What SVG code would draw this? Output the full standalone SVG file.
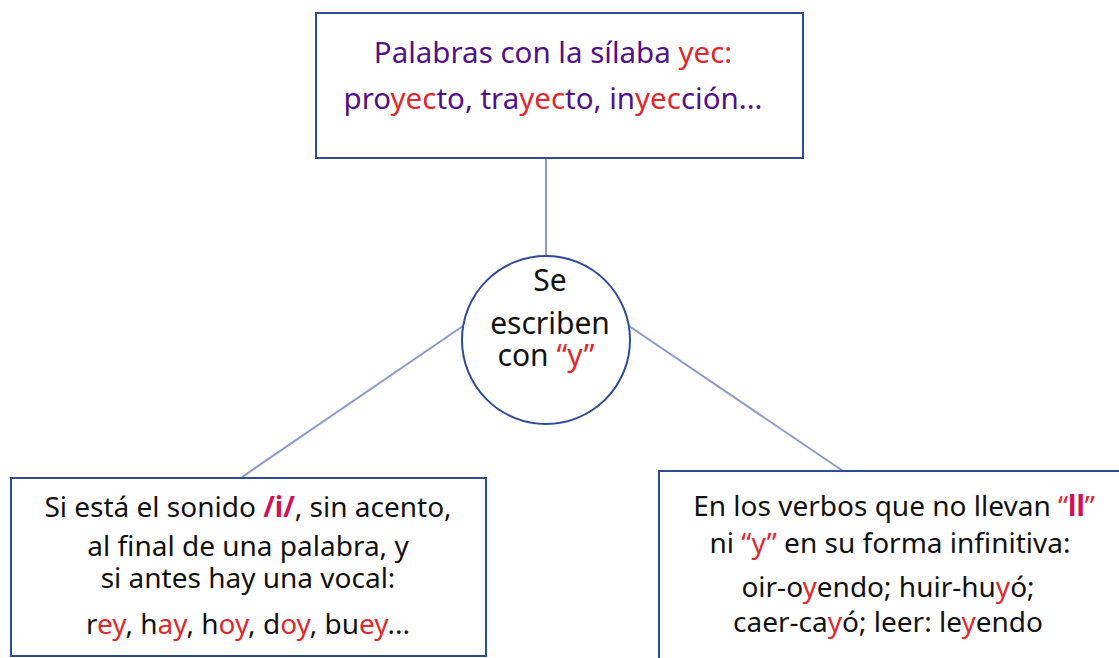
<svg xmlns="http://www.w3.org/2000/svg" width="1119" height="658" viewBox="0 0 1119 658">
<style>
.box{fill:#fff;stroke:#2e4a9b;stroke-width:2}
.conn{stroke:#8c9ac8;stroke-width:2;fill:none}
text{font-family:"Noto Sans","Liberation Sans",sans-serif;text-anchor:middle}
.t{font-size:28px;fill:#111}
.p{font-size:29.5px;fill:#52108a}
.c{font-size:30px;fill:#111}
.r{fill:#e0282e}
.m{fill:#d0105a;font-weight:bold}
</style>
<rect width="1119" height="658" fill="#fff"/>
<g id="connectors">
<line class="conn" x1="546" y1="158" x2="546" y2="255"/>
<line class="conn" x1="463" y1="326" x2="242" y2="477"/>
<line class="conn" x1="629" y1="326" x2="843" y2="471"/>
</g>
<g id="top">
<rect class="box" x="316" y="13" width="487" height="145"/>
<text class="p" x="553" y="63">Palabras con la sílaba <tspan class="r">yec</tspan><tspan class="r">:</tspan></text>
<text class="p" x="553" y="109">pro<tspan class="r">yec</tspan>to, tra<tspan class="r">yec</tspan>to, in<tspan class="r">yec</tspan>ción...</text>
</g>
<g id="center">
<circle cx="546" cy="340" r="84" fill="#fff" stroke="#2e4a9b" stroke-width="2"/>
<text class="c" x="550" y="291">Se</text>
<text class="c" x="550" y="334">escriben</text>
<text class="c" x="546" y="366">con <tspan class="r">“y”</tspan></text>
</g>
<g id="left">
<rect class="box" x="11" y="478" width="475" height="178"/>
<text class="t" x="248" y="517">Si está el sonido <tspan class="m">/i/</tspan>, sin acento,</text>
<text class="t" x="248" y="556">al final de una palabra, y</text>
<text class="t" x="248" y="588">si antes hay una vocal:</text>
<text class="t" x="248" y="634">r<tspan class="r">ey</tspan>, h<tspan class="r">ay</tspan>, h<tspan class="r">oy</tspan>, d<tspan class="r">oy</tspan>, bu<tspan class="r">ey</tspan>...</text>
</g>
<g id="right">
<rect class="box" x="659" y="471" width="470" height="195"/>
<text class="t" x="894" y="516">En los verbos que no llevan <tspan class="r">“</tspan><tspan class="m">ll</tspan><tspan class="r">”</tspan></text>
<text class="t" x="890" y="553">ni <tspan class="r">“y”</tspan> en su forma infinitiva:</text>
<text class="t" x="888" y="597">oir-o<tspan class="r">y</tspan>endo; huir-hu<tspan class="r">y</tspan>ó;</text>
<text class="t" x="888" y="632">caer-ca<tspan class="r">y</tspan>ó; leer: le<tspan class="r">y</tspan>endo</text>
</g>
</svg>
